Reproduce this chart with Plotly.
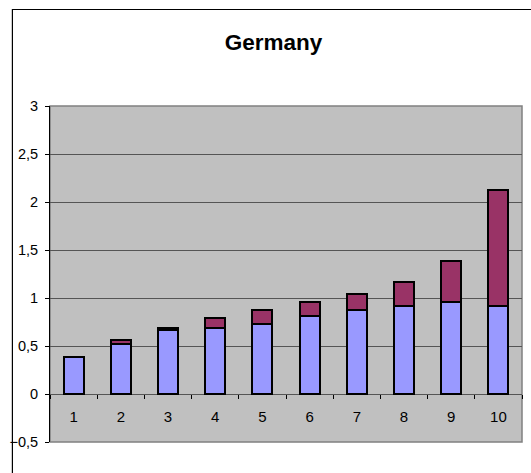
import plotly.graph_objects as go

categories = ["1", "2", "3", "4", "5", "6", "7", "8", "9", "10"]
base_values = [0.39, 0.52, 0.665, 0.685, 0.725, 0.81, 0.875, 0.915, 0.955, 0.915]
extra_values = [0.0, 0.04, 0.02, 0.11, 0.15, 0.145, 0.165, 0.25, 0.435, 1.21]
y_ticks = [-0.5, 0, 0.5, 1, 1.5, 2, 2.5, 3]

W, H = 531, 473
ml, mr, mt, mb = 45, 9, 106, 31

fig = go.Figure()
fig.add_trace(go.Bar(x=categories, y=base_values, marker=dict(color="#9999FF", line=dict(color="black", width=2)), name="A"))
fig.add_trace(go.Bar(x=categories, y=extra_values, marker=dict(color="#993366", line=dict(color="black", width=2)), name="B"))

ymin, ymax = -0.5, 3
fig.update_layout(
    width=W, height=H,
    margin=dict(l=ml, r=mr, t=mt, b=mb, pad=0),
    barmode="stack", bargap=0.58,
    showlegend=False,
    separators=",.",
    paper_bgcolor="white",
    plot_bgcolor="#C0C0C0",
    font=dict(family="Liberation Sans, Arial, sans-serif", size=15, color="black"),
    title=dict(text="<b>Germany</b>", x=273.5 / W, xanchor="center",
               y=1 - 42 / H, yanchor="middle", font=dict(size=22.5, color="black")),
    xaxis=dict(
        type="category",
        anchor="free",
        position=(0 - ymin) / (ymax - ymin),
        showline=False,
        ticks="outside", ticklen=4, tickcolor="black", tickwidth=1,
        tickson="boundaries",
        ticklabelstandoff=12,
        showgrid=False,
        tickfont=dict(size=15),
    ),
    yaxis=dict(
        range=[ymin, ymax],
        tickvals=y_ticks,
        showline=True, linecolor="black", linewidth=1,
        ticks="outside", ticklen=4, tickcolor="black",
        showgrid=True, gridcolor="#555555", gridwidth=1.2,
        zeroline=True, zerolinecolor="#555555", zerolinewidth=1.2,
        tickfont=dict(size=14.5),
        ticklabelstandoff=4,
    ),
    shapes=[
        dict(type="rect", xref="paper", yref="paper", x0=0, x1=1, y0=0, y1=1,
             line=dict(color="#808080", width=1.5), fillcolor="rgba(0,0,0,0)", layer="below"),
        dict(type="rect", xref="paper", yref="paper",
             x0=-(ml - 7) / (W - ml - mr), x1=1 + (mr + 20) / (W - ml - mr),
             y0=-(mb + 20) / (H - mt - mb), y1=1 + (mt - 9.5) / (H - mt - mb),
             line=dict(color="black", width=1.2), fillcolor="rgba(0,0,0,0)"),
    ],
)

fig.write_html("out.html", config={"displayModeBar": False},
               post_script="document.body.style.margin='0';document.body.style.overflow='hidden';")
